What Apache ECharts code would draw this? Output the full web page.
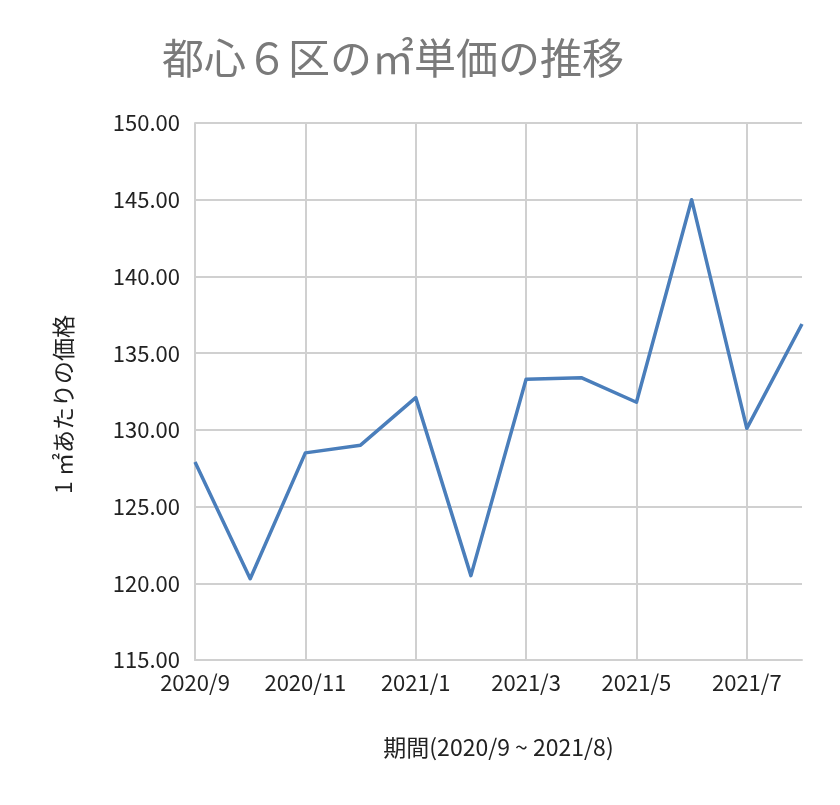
<!DOCTYPE html>
<html>
<head>
<meta charset="utf-8">
<script src="https://cdn.jsdelivr.net/npm/echarts@6/dist/echarts.min.js"></script>
<style>
  html, body { margin: 0; padding: 0; background: #fff; }
  #chart { width: 840px; height: 805px; }
</style>
</head>
<body>
<div id="chart"></div>
<script>
// monthly price per ㎡
var months = ['2020/9', '2020/10', '2020/11', '2020/12', '2021/1', '2021/2',
              '2021/3', '2021/4', '2021/5', '2021/6', '2021/7', '2021/8'];
var prices = [127.9, 120.3, 128.5, 129.0, 132.1, 120.5,
              133.3, 133.4, 131.8, 145.0, 130.1, 136.9];
var yMin = 115, yMax = 150, yStep = 5;

var FONT = '"Noto Sans CJK JP", "Noto Sans", sans-serif';
var myChart = echarts.init(document.getElementById('chart'));

option = {
    animation: false,
    title: {
        text: '都心６区の㎡単価の推移',
        left: 388,
        textAlign: 'center',
        top: 32,
        textStyle: { fontFamily: FONT, fontSize: 42, fontWeight: 'normal', color: '#7a7a7a' }
    },
    grid: { left: 195, right: 38, top: 123, bottom: 145 },
    xAxis: {
        type: 'category',
        data: months,
        boundaryGap: false,
        name: '期間(2020/9 ~ 2021/8)',
        nameLocation: 'middle',
        nameGap: 76,
        nameTextStyle: { fontFamily: FONT, fontSize: 23, color: '#222' },
        axisLine: { lineStyle: { color: '#d0d0d0', width: 2 } },
        axisTick: { show: false },
        axisLabel: { interval: 1, fontFamily: FONT, fontSize: 22, color: '#222', margin: 12 },
        splitLine: { show: true, interval: 1, lineStyle: { color: '#d0d0d0', width: 2 } }
    },
    yAxis: {
        type: 'value',
        min: yMin, max: yMax, interval: yStep,
        name: '1 ㎡あたりの価格',
        nameLocation: 'middle',
        nameGap: 120,
        nameTextStyle: { fontFamily: FONT, fontSize: 23, color: '#222', padding: [0, 26, 0, 0] },
        axisLine: { show: true, lineStyle: { color: '#d0d0d0', width: 2 } },
        axisTick: { show: false },
        axisLabel: {
            fontFamily: FONT, fontSize: 22, color: '#222', margin: 15,
            formatter: function (v) { return v.toFixed(2); }
        },
        splitLine: { lineStyle: { color: '#d0d0d0', width: 2 } }
    },
    series: [{
        type: 'line',
        data: prices,
        symbol: 'none',
        lineStyle: { color: '#4a7ebb', width: 3.5, join: 'round' }
    }]
};
myChart.setOption(option);
</script>
</body>
</html>
